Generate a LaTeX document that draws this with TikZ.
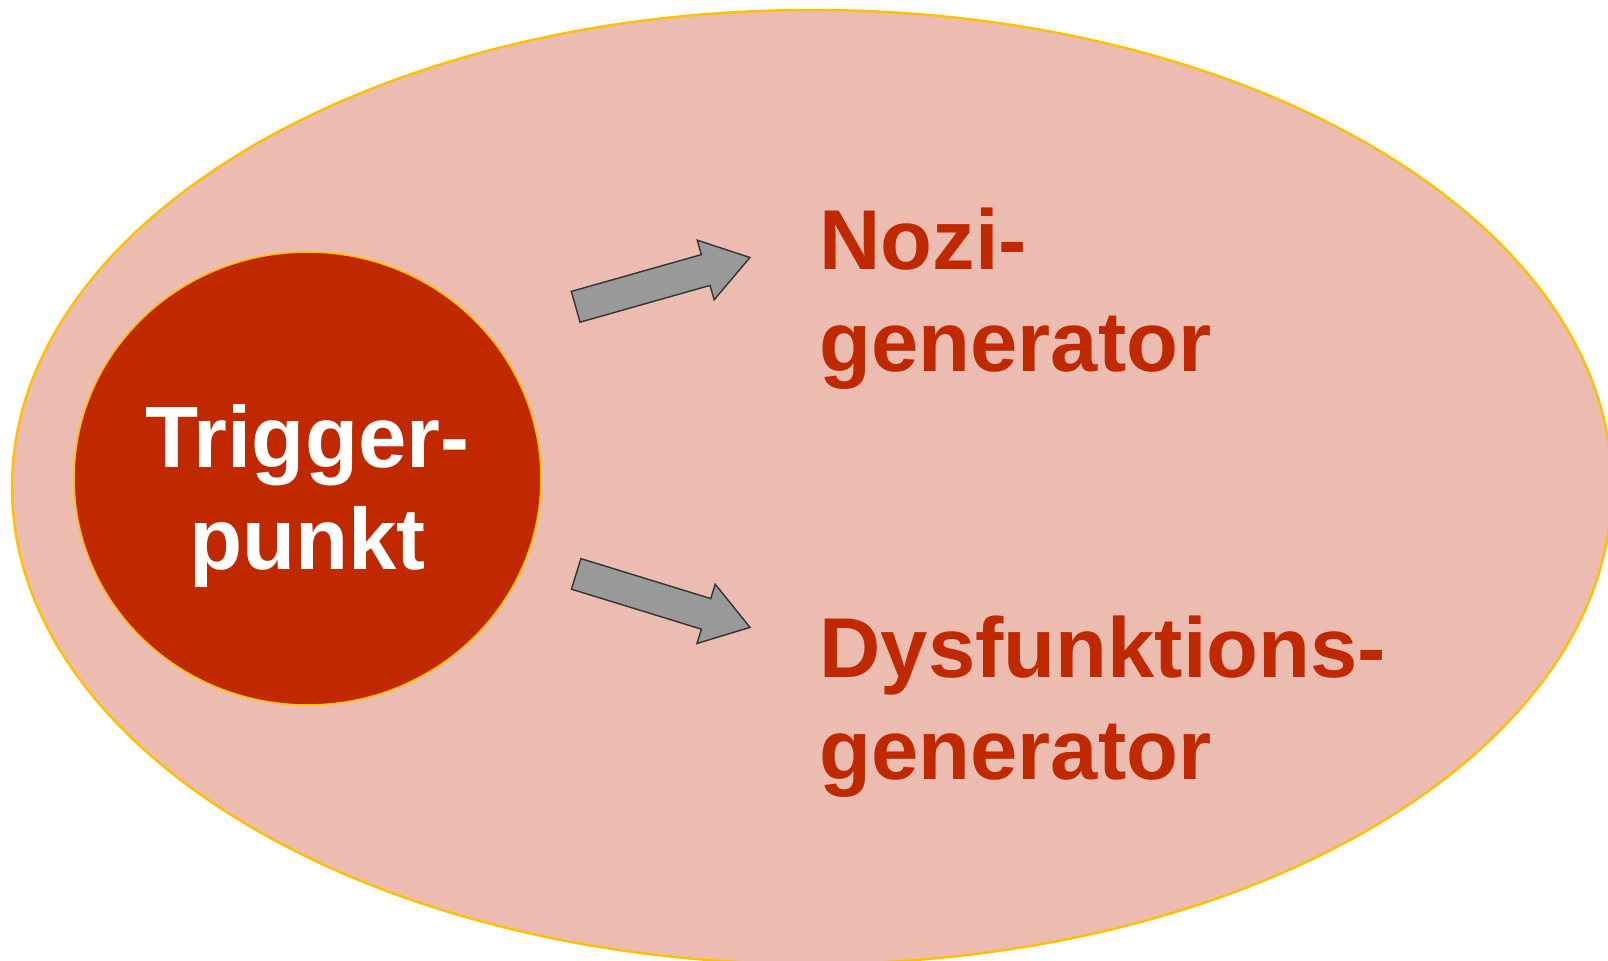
\documentclass[tikz,border=0pt]{standalone}
\usepackage{fontspec}
\setmainfont{Liberation Sans}
\usetikzlibrary{shapes.geometric,shapes.arrows}

\definecolor{ovalfill}{RGB}{236,188,177}
\definecolor{ovalline}{RGB}{255,192,0}
\definecolor{trigred}{RGB}{192,41,0}
\definecolor{arrowgray}{RGB}{153,153,153}
\definecolor{arrowline}{RGB}{51,51,51}

\tikzset{
  oval/.style={
    draw=ovalline,
    fill=ovalfill,
    ellipse,
    line width=1.2pt,
    inner sep=0pt
  },
  trigspot/.style={
    draw=ovalline,
    fill=trigred,
    ellipse,
    line width=0.8pt,
    inner sep=0pt,
    minimum width=233.5pt,
    minimum height=226.5pt
  },
  blockarrow/.style={
    draw=arrowline,
    fill=arrowgray,
    single arrow,
    line width=0.7pt,
    inner xsep=0pt,
    inner ysep=7.65pt,
    single arrow head extend=7.5pt,
    single arrow tip angle=68,
    anchor=tail
  },
  bigtext/.style={
    font=\fontsize{42.5}{50.75}\selectfont\bfseries,
    inner sep=0pt
  },
  gentext/.style={bigtext, text=trigred, align=left, anchor=base west},
  trigtext/.style={bigtext, font=\fontsize{43.5}{50.75}\selectfont\bfseries,
    text=white, align=center, anchor=base}
}

\begin{document}
\begin{tikzpicture}[x=0.5pt,y=-0.5pt]
  \useasboundingbox (0,0) rectangle (1608,961);
  \clip (0,0) rectangle (1608,961);

  % background oval
  \node[oval, minimum width=800pt, minimum height=477pt] (field) at (812,487) {};

  % trigger point (base anchor sits on the last line)
  \node[trigspot] (trigger) at (307.5,478.5) {};
  \node[trigtext] (trigger_label) at (307.5,569.2) {Trigger-\\punkt};

  % arrows
  \node[blockarrow, minimum height=90.55pt, rotate=15.8] (nozi_arrow) at (575,307) {};
  \node[blockarrow, minimum height=90.95pt, rotate=-17.1] (dysf_arrow) at (575.5,573.7) {};

  % generators
  \node[gentext] (nozi) at (819,371.2) {Nozi-\\generator};
  \node[gentext] (dysf) at (819,779.4) {Dysfunktions-\\generator};

\end{tikzpicture}
\end{document}
